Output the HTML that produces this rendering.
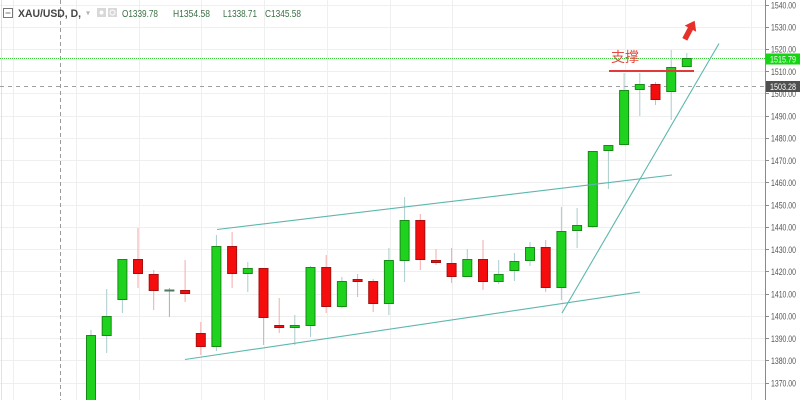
<!DOCTYPE html>
<html><head><meta charset="utf-8"><style>
html,body{margin:0;padding:0;background:#fff;}
svg{display:block;}
</style></head><body>
<svg width="800" height="400" viewBox="0 0 800 400" xmlns="http://www.w3.org/2000/svg" font-family="Liberation Sans, sans-serif">
<rect width="800" height="400" fill="#fff"/>
<!-- horizontal grid -->
<g stroke="#efefef" stroke-width="1">
<line x1="0" x2="765" y1="5.5" y2="5.5"/><line x1="0" x2="765" y1="27.5" y2="27.5"/><line x1="0" x2="765" y1="49.5" y2="49.5"/><line x1="0" x2="765" y1="71.5" y2="71.5"/><line x1="0" x2="765" y1="93.5" y2="93.5"/><line x1="0" x2="765" y1="116.5" y2="116.5"/><line x1="0" x2="765" y1="138.5" y2="138.5"/><line x1="0" x2="765" y1="160.5" y2="160.5"/><line x1="0" x2="765" y1="182.5" y2="182.5"/><line x1="0" x2="765" y1="205.5" y2="205.5"/><line x1="0" x2="765" y1="227.5" y2="227.5"/><line x1="0" x2="765" y1="249.5" y2="249.5"/><line x1="0" x2="765" y1="271.5" y2="271.5"/><line x1="0" x2="765" y1="294.5" y2="294.5"/><line x1="0" x2="765" y1="316.5" y2="316.5"/><line x1="0" x2="765" y1="338.5" y2="338.5"/><line x1="0" x2="765" y1="360.5" y2="360.5"/><line x1="0" x2="765" y1="383.5" y2="383.5"/>
</g>
<!-- vertical grid -->
<g stroke="#efefef" stroke-width="1">
<line x1="13.5" x2="13.5" y1="0" y2="400"/><line x1="76.5" x2="76.5" y1="0" y2="400"/><line x1="139.5" x2="139.5" y1="0" y2="400"/><line x1="201.5" x2="201.5" y1="0" y2="400"/><line x1="264.5" x2="264.5" y1="0" y2="400"/><line x1="327.5" x2="327.5" y1="0" y2="400"/><line x1="390.5" x2="390.5" y1="0" y2="400"/><line x1="452.5" x2="452.5" y1="0" y2="400"/><line x1="562.5" x2="562.5" y1="0" y2="400"/><line x1="625.5" x2="625.5" y1="0" y2="400"/><line x1="751.5" x2="751.5" y1="0" y2="400"/>
</g>
<line x1="1.5" x2="1.5" y1="0" y2="400" stroke="#e2e2e2"/>
<!-- crosshair / price lines -->
<line x1="60.5" x2="60.5" y1="0" y2="400" stroke="#9a9a9a" stroke-dasharray="4 3"/>
<line x1="0" x2="765" y1="86.5" y2="86.5" stroke="#a0a0a0" stroke-dasharray="4 4"/>
<line x1="0" x2="765" y1="58.5" y2="58.5" stroke="#3ccf3c" stroke-dasharray="1 1"/>

<!-- wicks -->
<g stroke-width="1">
<g stroke="#a9cccc">
<line x1="91" x2="91" y1="330" y2="400"/>
<line x1="106.7" x2="106.7" y1="289" y2="353"/>
<line x1="122.4" x2="122.4" y1="259" y2="313"/>
<line x1="216.4" x2="216.4" y1="235" y2="351"/>
<line x1="247.8" x2="247.8" y1="262" y2="292"/>
<line x1="294.8" x2="294.8" y1="315" y2="345"/>
<line x1="310.5" x2="310.5" y1="266" y2="337"/>
<line x1="341.9" x2="341.9" y1="277" y2="308"/>
<line x1="388.9" x2="388.9" y1="248" y2="315"/>
<line x1="404.6" x2="404.6" y1="197" y2="282"/>
<line x1="467.3" x2="467.3" y1="249" y2="277"/>
<line x1="498.7" x2="498.7" y1="260" y2="284"/>
<line x1="514.4" x2="514.4" y1="253" y2="281"/>
<line x1="530" x2="530" y1="242" y2="266"/>
<line x1="561.4" x2="561.4" y1="207" y2="300"/>
<line x1="577.1" x2="577.1" y1="208" y2="248"/>
<line x1="592.8" x2="592.8" y1="151" y2="228"/>
<line x1="608.4" x2="608.4" y1="145" y2="189"/>
<line x1="624.1" x2="624.1" y1="73" y2="145"/>
<line x1="639.8" x2="639.8" y1="73" y2="116"/>
<line x1="671.2" x2="671.2" y1="50" y2="120"/>
<line x1="686.8" x2="686.8" y1="53" y2="67"/>
<line x1="169.4" x2="169.4" y1="288" y2="317" stroke="#9fb5ad"/>
</g>
<g stroke="#f2aaaa">
<line x1="138" x2="138" y1="228" y2="288"/>
<line x1="153.7" x2="153.7" y1="270" y2="310"/>
<line x1="185.1" x2="185.1" y1="260" y2="302"/>
<line x1="200.8" x2="200.8" y1="322" y2="355"/>
<line x1="232.1" x2="232.1" y1="232" y2="288"/>
<line x1="263.5" x2="263.5" y1="268" y2="345"/>
<line x1="279.2" x2="279.2" y1="298" y2="333"/>
<line x1="326.2" x2="326.2" y1="255" y2="313"/>
<line x1="357.6" x2="357.6" y1="274" y2="297"/>
<line x1="373.2" x2="373.2" y1="279" y2="312"/>
<line x1="420.3" x2="420.3" y1="214" y2="270"/>
<line x1="436" x2="436" y1="249" y2="265"/>
<line x1="451.6" x2="451.6" y1="248" y2="283"/>
<line x1="483" x2="483" y1="240" y2="290"/>
<line x1="545.7" x2="545.7" y1="240" y2="292"/>
<line x1="655.5" x2="655.5" y1="82" y2="105"/>
</g>
</g>

<!-- green bodies -->
<g fill="#1ed21e" stroke="#168c16" stroke-width="1">
<rect x="86.5" y="335.5" width="9" height="75"/>
<rect x="102.2" y="316.5" width="9" height="19"/>
<rect x="117.9" y="259.5" width="9" height="40"/>
<rect x="211.9" y="246.5" width="9" height="100"/>
<rect x="243.3" y="268.5" width="9" height="5"/>
<rect x="290.3" y="325.5" width="9" height="2"/>
<rect x="306" y="267.5" width="9" height="58"/>
<rect x="337.4" y="281.5" width="9" height="25"/>
<rect x="384.4" y="260.5" width="9" height="43"/>
<rect x="400.1" y="220.5" width="9" height="40"/>
<rect x="462.8" y="259.5" width="9" height="17"/>
<rect x="494.2" y="274.5" width="9" height="7"/>
<rect x="509.9" y="261.5" width="9" height="9"/>
<rect x="525.5" y="247.5" width="9" height="13"/>
<rect x="556.9" y="231.5" width="9" height="56"/>
<rect x="572.6" y="225.5" width="9" height="5"/>
<rect x="588.3" y="151.5" width="9" height="75"/>
<rect x="603.9" y="145.5" width="9" height="5"/>
<rect x="619.6" y="90.5" width="9" height="54"/>
<rect x="635.3" y="84.5" width="9" height="5"/>
<rect x="666.7" y="67.5" width="9" height="24"/>
<rect x="682.3" y="58.5" width="9" height="8"/>
</g>
<!-- doji -->
<rect x="164.4" y="289.5" width="10" height="2" fill="#4f7a60"/>
<!-- red bodies -->
<g fill="#f50d0d" stroke="#a81010" stroke-width="1">
<rect x="133.5" y="259.5" width="9" height="14"/>
<rect x="149.2" y="274.5" width="9" height="16"/>
<rect x="180.6" y="290.5" width="9" height="3"/>
<rect x="196.3" y="333.5" width="9" height="13"/>
<rect x="227.6" y="246.5" width="9" height="27"/>
<rect x="259" y="268.5" width="9" height="49"/>
<rect x="274.7" y="325.5" width="9" height="2"/>
<rect x="321.7" y="267.5" width="9" height="39"/>
<rect x="353.1" y="279.5" width="9" height="2"/>
<rect x="368.7" y="281.5" width="9" height="22"/>
<rect x="415.8" y="220.5" width="9" height="39"/>
<rect x="431.5" y="260.5" width="9" height="2"/>
<rect x="447.1" y="263.5" width="9" height="13"/>
<rect x="478.5" y="259.5" width="9" height="22"/>
<rect x="541.2" y="247.5" width="9" height="40"/>
<rect x="651" y="84.5" width="9" height="15"/>
</g>

<!-- trend lines -->
<g stroke="#5db7ae" stroke-width="1.1" fill="none">
<line x1="217" y1="229.5" x2="672" y2="175"/>
<line x1="185" y1="359.5" x2="640" y2="292"/>
<line x1="562" y1="313" x2="719" y2="43.5"/>
</g>

<!-- support line and label -->
<line x1="609" y1="71" x2="694" y2="71" stroke="#e23a3a" stroke-width="2"/>
<text x="611" y="62" font-size="14" fill="#e24a40" font-family="Liberation Sans, Noto Sans CJK SC, sans-serif">支撑</text>
<!-- arrow -->
<polygon points="0,-11 6.5,-2 2.8,-2 2.8,10 -2.8,10 -2.8,-2 -6.5,-2" fill="#e8302a" transform="translate(689.5 30.5) rotate(28)"/>

<!-- header -->
<rect x="3.5" y="8.5" width="9" height="9" fill="none" stroke="#777"/>
<line x1="5.5" x2="10.5" y1="13" y2="13" stroke="#777"/>
<text x="18" y="17" font-size="11" font-weight="bold" fill="#454545" textLength="63" lengthAdjust="spacingAndGlyphs">XAU/USD, D,</text>
<text x="86" y="15.5" font-size="8" fill="#b5b5b5">▾</text>
<rect x="97" y="8" width="9" height="9" fill="#d8d8d8"/>
<rect x="108" y="8" width="9" height="9" fill="#d8d8d8"/>
<circle cx="101.5" cy="12.5" r="2" fill="#fff"/>
<circle cx="112.5" cy="12.5" r="2.5" fill="none" stroke="#fff"/>
<g font-size="10" fill="#3b6f46">
<text x="122" y="17" textLength="36" lengthAdjust="spacingAndGlyphs">O1339.78</text>
<text x="173" y="17" textLength="37" lengthAdjust="spacingAndGlyphs">H1354.58</text>
<text x="223" y="17" textLength="34" lengthAdjust="spacingAndGlyphs">L1338.71</text>
<text x="265" y="17" textLength="36" lengthAdjust="spacingAndGlyphs">C1345.58</text>
</g>

<!-- right axis -->
<line x1="765.5" x2="765.5" y1="0" y2="400" stroke="#8a8a8a"/>
<g stroke="#8a8a8a">
<line x1="766" x2="769" y1="5.5" y2="5.5"/><line x1="766" x2="769" y1="27.5" y2="27.5"/><line x1="766" x2="769" y1="49.5" y2="49.5"/><line x1="766" x2="769" y1="71.5" y2="71.5"/><line x1="766" x2="769" y1="93.5" y2="93.5"/><line x1="766" x2="769" y1="116.5" y2="116.5"/><line x1="766" x2="769" y1="138.5" y2="138.5"/><line x1="766" x2="769" y1="160.5" y2="160.5"/><line x1="766" x2="769" y1="182.5" y2="182.5"/><line x1="766" x2="769" y1="205.5" y2="205.5"/><line x1="766" x2="769" y1="227.5" y2="227.5"/><line x1="766" x2="769" y1="249.5" y2="249.5"/><line x1="766" x2="769" y1="271.5" y2="271.5"/><line x1="766" x2="769" y1="294.5" y2="294.5"/><line x1="766" x2="769" y1="316.5" y2="316.5"/><line x1="766" x2="769" y1="338.5" y2="338.5"/><line x1="766" x2="769" y1="360.5" y2="360.5"/><line x1="766" x2="769" y1="383.5" y2="383.5"/>
</g>
<g font-size="9" fill="#555">
<text x="771" y="8.5" textLength="25" lengthAdjust="spacingAndGlyphs">1540.00</text>
<text x="771" y="30.5" textLength="25" lengthAdjust="spacingAndGlyphs">1530.00</text>
<text x="771" y="52.5" textLength="25" lengthAdjust="spacingAndGlyphs">1520.00</text>
<text x="771" y="75" textLength="25" lengthAdjust="spacingAndGlyphs">1510.00</text>
<text x="771" y="97" textLength="25" lengthAdjust="spacingAndGlyphs">1500.00</text>
<text x="771" y="119.5" textLength="25" lengthAdjust="spacingAndGlyphs">1490.00</text>
<text x="771" y="141.5" textLength="25" lengthAdjust="spacingAndGlyphs">1480.00</text>
<text x="771" y="164" textLength="25" lengthAdjust="spacingAndGlyphs">1470.00</text>
<text x="771" y="186" textLength="25" lengthAdjust="spacingAndGlyphs">1460.00</text>
<text x="771" y="208.5" textLength="25" lengthAdjust="spacingAndGlyphs">1450.00</text>
<text x="771" y="230.5" textLength="25" lengthAdjust="spacingAndGlyphs">1440.00</text>
<text x="771" y="253" textLength="25" lengthAdjust="spacingAndGlyphs">1430.00</text>
<text x="771" y="275" textLength="25" lengthAdjust="spacingAndGlyphs">1420.00</text>
<text x="771" y="297.5" textLength="25" lengthAdjust="spacingAndGlyphs">1410.00</text>
<text x="771" y="319.5" textLength="25" lengthAdjust="spacingAndGlyphs">1400.00</text>
<text x="771" y="342" textLength="25" lengthAdjust="spacingAndGlyphs">1390.00</text>
<text x="771" y="364" textLength="25" lengthAdjust="spacingAndGlyphs">1380.00</text>
<text x="771" y="386.5" textLength="25" lengthAdjust="spacingAndGlyphs">1370.00</text>
</g>
<rect x="766" y="53.5" width="34" height="11" fill="#14d414"/>
<text x="770" y="62.3" font-size="9" fill="#fff" textLength="26" lengthAdjust="spacingAndGlyphs">1515.79</text>
<rect x="766" y="81" width="34" height="11" fill="#4f4f4f"/>
<text x="770" y="89.8" font-size="9" fill="#fff" textLength="26" lengthAdjust="spacingAndGlyphs">1503.28</text>
</svg>
</body></html>
